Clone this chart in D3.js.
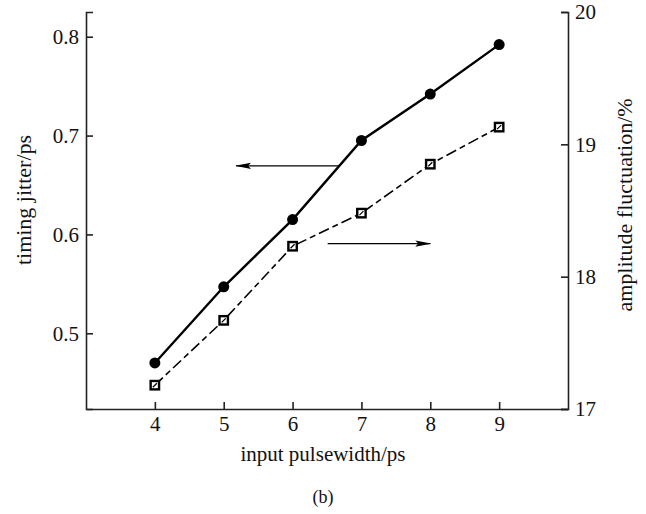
<!DOCTYPE html>
<html>
<head>
<meta charset="utf-8">
<script src="https://cdn.jsdelivr.net/npm/d3@7"></script>
<style>
  body { margin: 0; background: #fff; }
</style>
</head>
<body>
<div id="chart"></div>
<script>
// data
var pulsewidth = [4, 5, 6, 7, 8, 9];
var jitter = [0.470, 0.547, 0.615, 0.695, 0.742, 0.792];
var fluctuation = [17.18, 17.67, 18.23, 18.48, 18.85, 19.13];
var xTicks = [4, 5, 6, 7, 8, 9];
var leftTicks = [0.5, 0.6, 0.7, 0.8];
var rightTicks = [17, 18, 19, 20];
// arrows: [x0, x1, y] in data units of the axis they point at
var leftArrow = [6.67, 5.18, 0.6694];
var rightArrow = [6.51, 8.0, 18.25];

var W = 646, H = 514;
var margin = {left: 86, right: 78, top: 12, bottom: 105};
var FONT = '"Liberation Serif", "Times New Roman", Times, serif';

var svg = d3.select('#chart').append('svg')
  .attr('width', W).attr('height', H)
  .attr('font-family', FONT)

var x = d3.scaleLinear().domain([3, 10]).range([margin.left, W - margin.right])
var yL = d3.scaleLinear().domain([0.4234, 0.825]).range([H - margin.bottom, margin.top])
var yR = d3.scaleLinear().domain([17, 20]).range([H - margin.bottom, margin.top])

var g = svg.append('g')

function axisStyle(sel){
  sel.attr('font-family', FONT).attr('font-size', 21)
  sel.select('.domain').attr('stroke', '#222').attr('stroke-width', 1.6)
  sel.selectAll('.tick line').attr('stroke', '#222').attr('stroke-width', 1.6)
  sel.selectAll('.tick text').attr('fill', '#111')
    .style('font-family', FONT).style('font-size', '21px')
}

var xAxis = g.append('g')
  .attr('transform', 'translate(0,' + (H - margin.bottom) + ')')
  .call(d3.axisBottom(x).tickValues(xTicks).tickSize(-7).tickSizeOuter(0).tickPadding(7).tickFormat(d3.format('d')))
xAxis.call(axisStyle)

var leftAxis = g.append('g')
  .attr('transform', 'translate(' + margin.left + ',0)')
  .call(d3.axisLeft(yL).tickValues(leftTicks).tickSize(-7).tickSizeOuter(-7).tickPadding(7).tickFormat(d3.format('.1f')))
leftAxis.call(axisStyle)

var rightAxis = g.append('g')
  .attr('transform', 'translate(' + (W - margin.right) + ',0)')
  .call(d3.axisRight(yR).tickValues(rightTicks).tickSize(-7).tickSizeOuter(-7).tickPadding(7).tickFormat(d3.format('d')))
rightAxis.call(axisStyle)

// lines
var jitterLine = d3.line()
  .x(function(d, i){ return x(pulsewidth[i]) })
  .y(function(d){ return yL(d) })
var flucLine = d3.line()
  .x(function(d, i){ return x(pulsewidth[i]) })
  .y(function(d){ return yR(d) })

g.append('path').datum(jitter)
  .attr('d', jitterLine)
  .attr('fill', 'none').attr('stroke', '#000').attr('stroke-width', 2.4)

g.append('path').datum(fluctuation)
  .attr('d', flucLine)
  .attr('fill', 'none').attr('stroke', '#000').attr('stroke-width', 1.6)
  .attr('stroke-dasharray', '11,4,6,4')

g.selectAll('.dot').data(jitter).enter()
  .append('circle')
  .attr('class', 'dot')
  .attr('cx', function(d, i){ return x(pulsewidth[i]) })
  .attr('cy', function(d){ return yL(d) })
  .attr('r', 5.5)
  .attr('fill', '#000')

var sq = g.selectAll('.sq').data(fluctuation).enter()
  .append('g')
  .attr('class', 'sq')
  .attr('transform', function(d, i){ return 'translate(' + x(pulsewidth[i]) + ',' + yR(d) + ')' })
sq.append('rect')
  .attr('x', -4.2).attr('y', -4.2).attr('width', 8.4).attr('height', 8.4)
  .attr('fill', '#fff').attr('stroke', '#000').attr('stroke-width', 2.4)
sq.append('line')
  .attr('x1', -2).attr('y1', 2).attr('x2', 2).attr('y2', -2)
  .attr('stroke', '#000').attr('stroke-width', 1.3)

// arrows
var defs = svg.append('defs')
defs.append('marker')
  .attr('id', 'head')
  .attr('viewBox', '0 0 16 8')
  .attr('refX', 15).attr('refY', 4)
  .attr('markerWidth', 16).attr('markerHeight', 8)
  .attr('markerUnits', 'userSpaceOnUse')
  .attr('orient', 'auto')
  .append('path')
  .attr('d', 'M0,0.8 L16,4 L0,7.2 L3,4 Z')
  .attr('fill', '#000')

g.append('line')
  .attr('x1', x(leftArrow[0])).attr('x2', x(leftArrow[1]))
  .attr('y1', yL(leftArrow[2])).attr('y2', yL(leftArrow[2]))
  .attr('stroke', '#000').attr('stroke-width', 1.3)
  .attr('marker-end', 'url(#head)')

g.append('line')
  .attr('x1', x(rightArrow[0])).attr('x2', x(rightArrow[1]))
  .attr('y1', yR(rightArrow[2])).attr('y2', yR(rightArrow[2]))
  .attr('stroke', '#000').attr('stroke-width', 1.3)
  .attr('marker-end', 'url(#head)')

// titles
function title(t, size){
  return svg.append('text')
    .attr('text-anchor', 'middle')
    .attr('fill', '#111')
    .style('font-family', FONT)
    .style('font-size', size + 'px')
    .text(t)
}
title('input pulsewidth/ps', 21).attr('x', 323).attr('y', 461)
title('timing jitter/ps', 22).attr('transform', 'translate(31,200) rotate(-90)')
title('amplitude fluctuation/%', 22).attr('transform', 'translate(632,205) rotate(-90)')
title('(b)', 18).attr('x', 323).attr('y', 503)
</script>
</body>
</html>
